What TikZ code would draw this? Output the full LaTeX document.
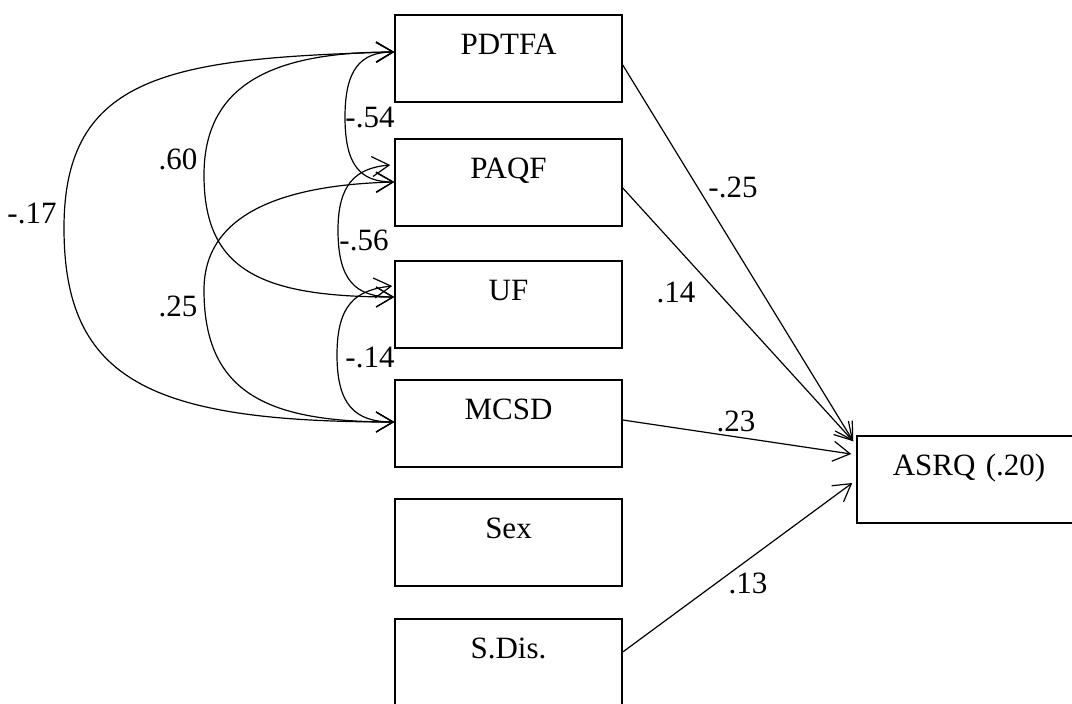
\documentclass[tikz,border=0pt]{standalone}
\usepackage{fontspec}
\setmainfont{Liberation Serif}
\usetikzlibrary{arrows.meta}
\tikzset{
  box/.style={draw, line width=1.5pt, rectangle, inner xsep=0pt, inner ysep=0pt,
    text width=227pt, align=center, text height=39pt, text depth=48pt,
    font=\fontsize{31}{37}\selectfont},
  lbl/.style={font=\fontsize{31}{37}\selectfont, inner sep=0pt},
  barb/.tip={Straight Barb[length=17pt,width=20pt]},
  reg/.style={-{barb}, line width=1.2pt},
  cov/.style={{barb}-{barb}, line width=1.2pt},
}
\begin{document}
\begin{tikzpicture}[x=1pt,y=-1pt]
\useasboundingbox (0,0) rectangle (1072,704);
\clip (0,0) rectangle (1072,704);
% boxes
\node[box] (pdtfa) at (508.5,58.5) {PDTFA};
\node[box] (paqf)  at (508.5,182.5) {PAQF};
\node[box] (uf)    at (508.5,304.5) {UF};
\node[box] (mcsd)  at (508.5,423.5) {MCSD};
\node[box] (sex)   at (508.5,542.5) {Sex};
\node[box] (sdis)  at (508.5,662.5) {S.Dis.};
\node[box, text width=224pt] (asrq) at (969,479.5) {ASRQ (.20)};
% covariance turning points
\coordinate (m17) at (64,228);
\coordinate (m60) at (204,175);
\coordinate (m25) at (204,290);
\coordinate (m54) at (345,117);
\coordinate (m56) at (338,230);
\coordinate (m14) at (337,355);
% covariances
\draw[cov] ([yshift=6.5pt]pdtfa.west) .. controls (170,58) and (64,75) .. (m17)
  .. controls (64,380) and (150,422) .. ([yshift=1.5pt]mcsd.west);
\draw[cov] ([yshift=6.5pt]pdtfa.west) .. controls (280,52) and (204,80) .. (m60)
  .. controls (204,270) and (260,297) .. ([yshift=7.5pt]uf.west);
\draw[cov] ([yshift=0.5pt]paqf.west) .. controls (280,185) and (204,215) .. (m25)
  .. controls (204,395) and (270,422) .. ([yshift=1.5pt]mcsd.west);
\draw[cov] ([yshift=6.5pt]pdtfa.west) .. controls (360,52) and (345,70) .. (m54)
  .. controls (345,165) and (360,182) .. ([yshift=0.5pt]paqf.west);
\draw[cov] ([shift={(-4pt,17.5pt)}]paqf.west) .. controls (355,168) and (338,185) .. (m56)
  .. controls (338,280) and (355,297) .. ([yshift=7.5pt]uf.west);
\draw[cov] ([shift={(-2pt,18.5pt)}]uf.west) .. controls (355,290) and (337,305) .. (m14)
  .. controls (337,405) and (355,422) .. ([yshift=1.5pt]mcsd.west);
% covariance labels
\node[lbl] (l17) at (32,213) {-.17};
\node[lbl] (l60) at (178,159) {.60};
\node[lbl] (l25) at (178,306) {.25};
\node[lbl] (l54) at (370,118) {-.54};
\node[lbl] (l56) at (364,240) {-.56};
\node[lbl] (l14) at (370,357) {-.14};
% regressions
\draw[reg] ([yshift=-6.5pt]pdtfa.east) -- ([shift={(-3pt,-6pt)}]asrq.north west);
\draw[reg] ([yshift=-5.5pt]paqf.east) -- ([shift={(-3pt,-6pt)}]asrq.north west);
\draw[reg] ([yshift=3.5pt]mcsd.east) -- ([shift={(-5pt,25.5pt)}]asrq.west);
\draw[reg] ([yshift=10.5pt]sdis.east) -- ([shift={(-4pt,-3.5pt)}]asrq.west);
% regression labels
\node[lbl] (r25) at (733,187) {-.25};
\node[lbl] (r14) at (676,292) {.14};
\node[lbl] (r23) at (736,421) {.23};
\node[lbl] (r13) at (748,583) {.13};
\end{tikzpicture}
\end{document}
